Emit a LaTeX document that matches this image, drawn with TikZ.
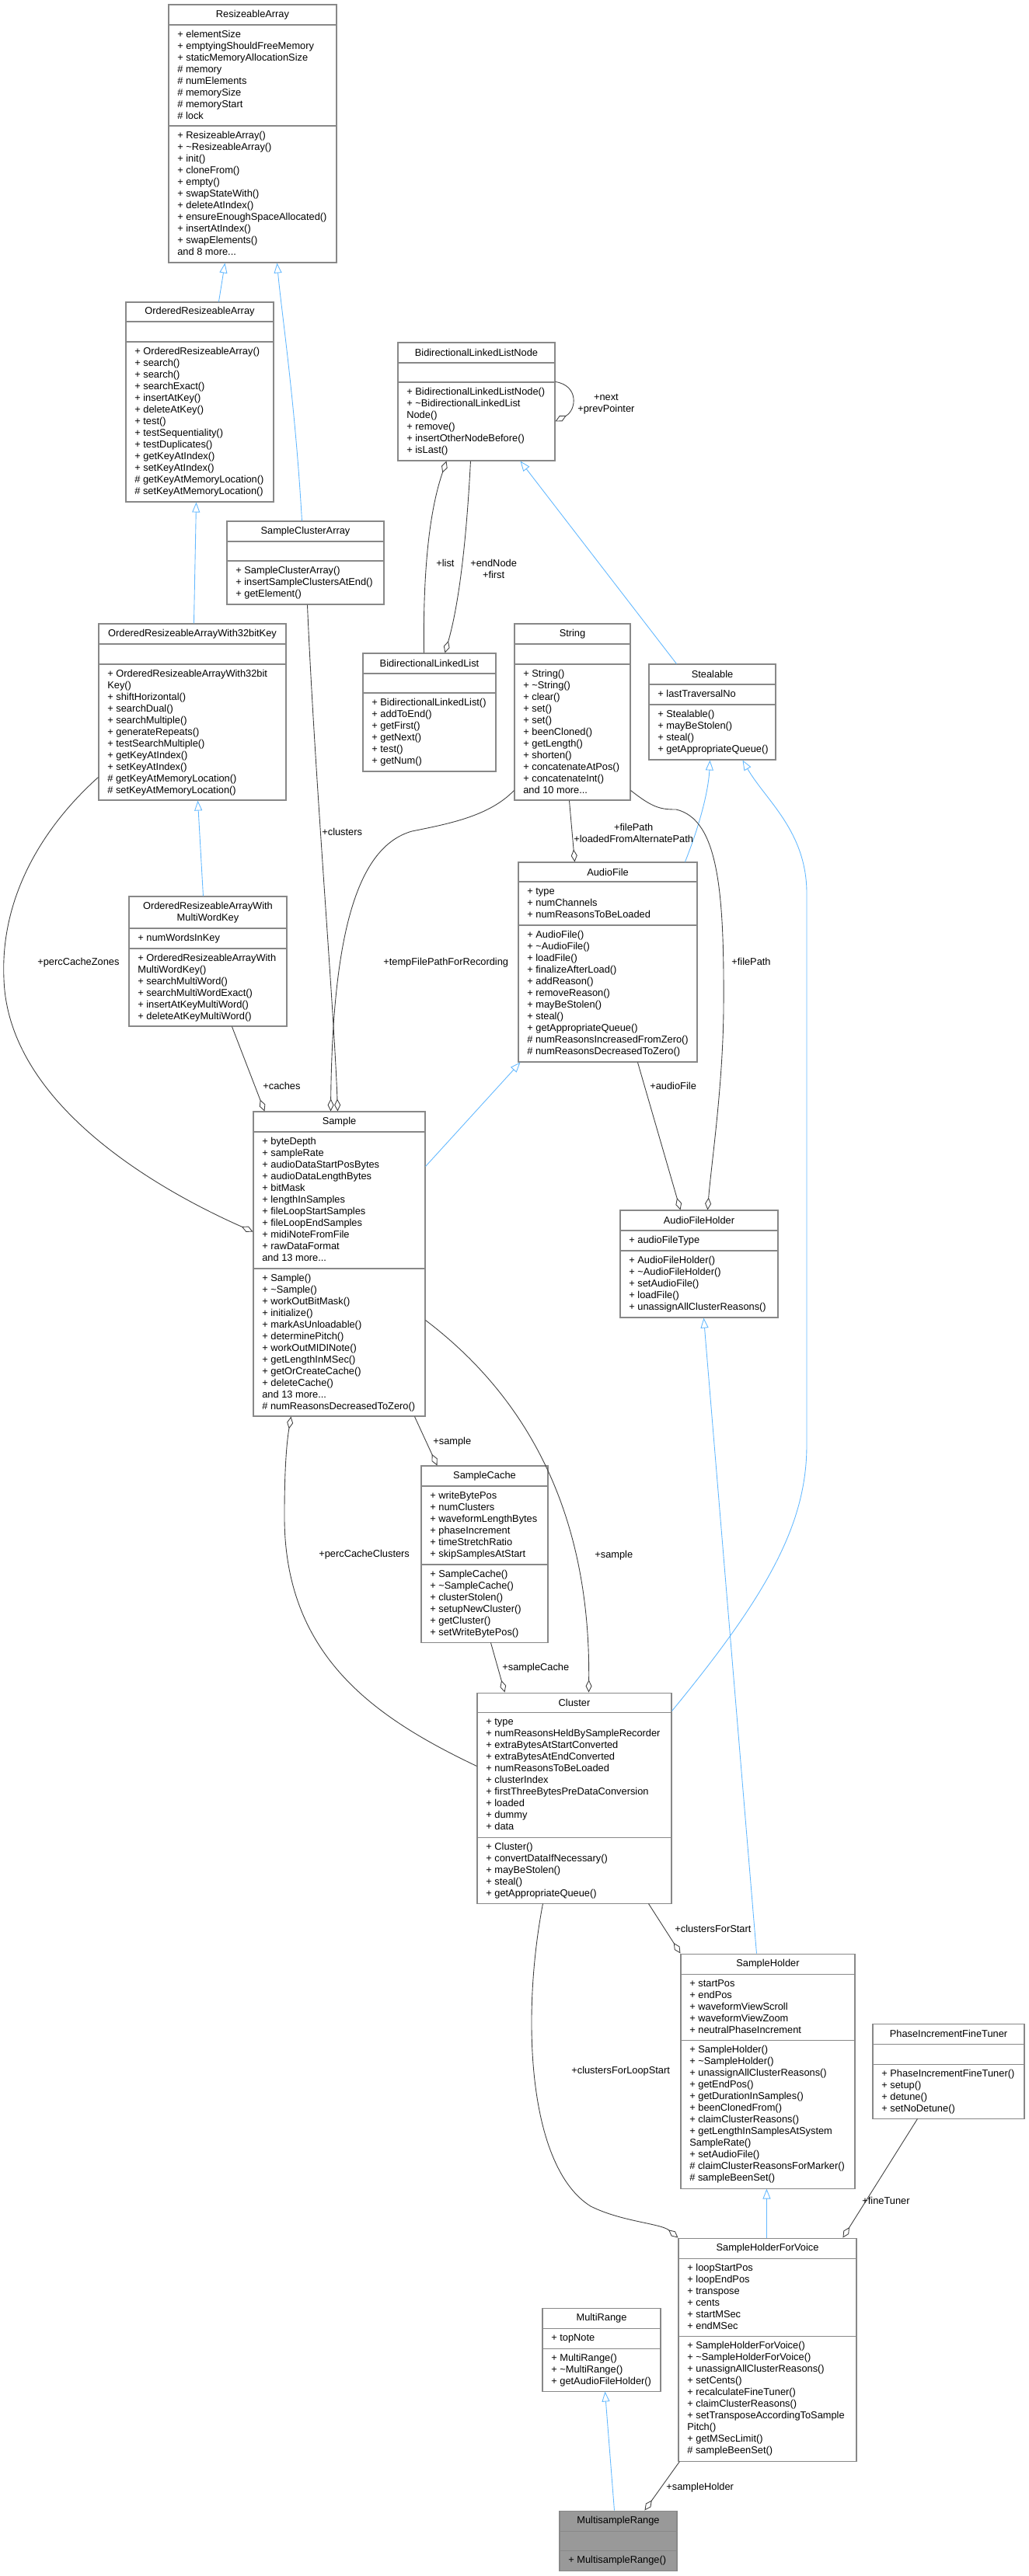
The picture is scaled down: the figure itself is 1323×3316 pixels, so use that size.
\documentclass[tikz,border=0pt]{standalone}
\usepackage{fontspec}
\setmainfont{Liberation Sans}
\usetikzlibrary{arrows.meta, fit, calc}

\definecolor{boxgray}{HTML}{888888}
\definecolor{edgegray}{HTML}{404040}
\definecolor{inhblue}{HTML}{63B8FF}
\definecolor{msrgray}{HTML}{999999}
\newcommand\boxfont{\fontsize{7.3}{8.54}\selectfont}

\tikzset{
  box/.style={draw=boxgray, line width=0.6pt, fill=white, inner sep=0pt},
  boxline/.style={draw=boxgray, line width=0.6pt},
  boxtitle/.style={font=\boxfont, align=center, inner sep=0pt},
  boxtext/.style={font=\boxfont, align=left, anchor=north west, inner sep=0pt},
  agg/.style={draw=edgegray, line width=0.5pt, -{Diamond[open, length=0.32cm, width=0.16cm]}},
  inh/.style={draw=inhblue, line width=0.5pt, -{Triangle[open, length=0.26cm, width=0.2cm]}},
  lbl/.style={font=\boxfont, align=center, anchor=west, inner sep=0pt}
}

% class box: name (x1,ytop,x2,sep1,sep2,ybot) {title} {attributes} {methods}
\def\umlbox#1(#2,#3,#4,#5,#6,#7)#8#9{%
  \node[box, fit={(#2,#3) (#4,#7)}] (#1) {};
  \draw[boxline] (#2,#5) -- (#4,#5) (#2,#6) -- (#4,#6);
  \node[boxtitle] at ({(#2+#4)/2},{(#3+#5)/2}) {#8};
  \node[boxtext] at (#2+11,#5+5.5) {\strut#9};
  \def\methx{#2}\def\methy{#6}\umlmeth}
\newcommand\umlmeth[1]{\node[boxtext] at (\methx+11,\methy+5.5) {\strut#1};}
\newcommand\tld{\textasciitilde}

\begin{document}
\begin{tikzpicture}[x=0.02cm, y=-0.02cm]
\useasboundingbox (0,0) rectangle (1323,3316);

\umlbox{resizeable}(217,6,433,32,162,338){ResizeableArray}
  {+ elementSize\\+ emptyingShouldFreeMemory\\+ staticMemoryAllocationSize\\\# memory\\\# numElements\\\# memorySize\\\# memoryStart\\\# lock}
  {+ ResizeableArray()\\+ \tld ResizeableArray()\\+ init()\\+ cloneFrom()\\+ empty()\\+ swapStateWith()\\+ deleteAtIndex()\\+ ensureEnoughSpaceAllocated()\\+ insertAtIndex()\\+ swapElements()\\and 8 more...}
\umlbox{ordered}(162,389,352,414,440,646){OrderedResizeableArray}{}
  {+ OrderedResizeableArray()\\+ search()\\+ search()\\+ searchExact()\\+ insertAtKey()\\+ deleteAtKey()\\+ test()\\+ testSequentiality()\\+ testDuplicates()\\+ getKeyAtIndex()\\+ setKeyAtIndex()\\\# getKeyAtMemoryLocation()\\\# setKeyAtMemoryLocation()}
\umlbox{listnode}(512,441,714,467,492,593){BidirectionalLinkedListNode}{}
  {+ BidirectionalLinkedListNode()\\+ \tld BidirectionalLinkedList\\Node()\\+ remove()\\+ insertOtherNodeBefore()\\+ isLast()}
\umlbox{clusterarray}(292,671,494,697,722,778){SampleClusterArray}{}
  {+ SampleClusterArray()\\+ insertSampleClustersAtEnd()\\+ getElement()}
\umlbox{ordered32}(127,803,368,829,855,1030){OrderedResizeableArrayWith32bitKey}{}
  {+ OrderedResizeableArrayWith32bit\\Key()\\+ shiftHorizontal()\\+ searchDual()\\+ searchMultiple()\\+ generateRepeats()\\+ testSearchMultiple()\\+ getKeyAtIndex()\\+ setKeyAtIndex()\\\# getKeyAtMemoryLocation()\\\# setKeyAtMemoryLocation()}
\umlbox{list}(467,841,638,867,892,993){BidirectionalLinkedList}{}
  {+ BidirectionalLinkedList()\\+ addToEnd()\\+ getFirst()\\+ getNext()\\+ test()\\+ getNum()}
\umlbox{string}(662,803,811,829,855,1030){String}{}
  {+ String()\\+ \tld String()\\+ clear()\\+ set()\\+ set()\\+ beenCloned()\\+ getLength()\\+ shorten()\\+ concatenateAtPos()\\+ concatenateInt()\\and 10 more...}
\umlbox{stealable}(835,855,998,881,907,978){Stealable}{+ lastTraversalNo}
  {+ Stealable()\\+ mayBeStolen()\\+ steal()\\+ getAppropriateQueue()}
\umlbox{multiword}(166,1154,369,1195,1221,1321){OrderedResizeableArrayWith\\MultiWordKey}{+ numWordsInKey}
  {+ OrderedResizeableArrayWith\\MultiWordKey()\\+ searchMultiWord()\\+ searchMultiWordExact()\\+ insertAtKeyMultiWord()\\+ deleteAtKeyMultiWord()}
\umlbox{audiofile}(667,1110,897,1135,1191,1367){AudioFile}
  {+ type\\+ numChannels\\+ numReasonsToBeLoaded}
  {+ AudioFile()\\+ \tld AudioFile()\\+ loadFile()\\+ finalizeAfterLoad()\\+ addReason()\\+ removeReason()\\+ mayBeStolen()\\+ steal()\\+ getAppropriateQueue()\\\# numReasonsIncreasedFromZero()\\\# numReasonsDecreasedToZero()}
\umlbox{sample}(326,1431,547,1457,1633,1823){Sample}
  {+ byteDepth\\+ sampleRate\\+ audioDataStartPosBytes\\+ audioDataLengthBytes\\+ bitMask\\+ lengthInSamples\\+ fileLoopStartSamples\\+ fileLoopEndSamples\\+ midiNoteFromFile\\+ rawDataFormat\\and 13 more...}
  {+ Sample()\\+ \tld Sample()\\+ workOutBitMask()\\+ initialize()\\+ markAsUnloadable()\\+ determinePitch()\\+ workOutMIDINote()\\+ getLengthInMSec()\\+ getOrCreateCache()\\+ deleteCache()\\and 13 more...\\\# numReasonsDecreasedToZero()}
\umlbox{holder}(798,1558,1001,1584,1610,1696){AudioFileHolder}{+ audioFileType}
  {+ AudioFileHolder()\\+ \tld AudioFileHolder()\\+ setAudioFile()\\+ loadFile()\\+ unassignAllClusterReasons()}
\umlbox{cache}(542,1887,705,1913,2014,2114){SampleCache}
  {+ writeBytePos\\+ numClusters\\+ waveformLengthBytes\\+ phaseIncrement\\+ timeStretchRatio\\+ skipSamplesAtStart}
  {+ SampleCache()\\+ \tld SampleCache()\\+ clusterStolen()\\+ setupNewCluster()\\+ getCluster()\\+ setWriteBytePos()}
\umlbox{cluster}(614,2179,864,2204,2365,2450){Cluster}
  {+ type\\+ numReasonsHeldBySampleRecorder\\+ extraBytesAtStartConverted\\+ extraBytesAtEndConverted\\+ numReasonsToBeLoaded\\+ clusterIndex\\+ firstThreeBytesPreDataConversion\\+ loaded\\+ dummy\\+ data}
  {+ Cluster()\\+ convertDataIfNecessary()\\+ mayBeStolen()\\+ steal()\\+ getAppropriateQueue()}
\umlbox{sampleholder}(876,2515,1100,2541,2626,2817){SampleHolder}
  {+ startPos\\+ endPos\\+ waveformViewScroll\\+ waveformViewZoom\\+ neutralPhaseIncrement}
  {+ SampleHolder()\\+ \tld SampleHolder()\\+ unassignAllClusterReasons()\\+ getEndPos()\\+ getDurationInSamples()\\+ beenClonedFrom()\\+ claimClusterReasons()\\+ getLengthInSamplesAtSystem\\SampleRate()\\+ setAudioFile()\\\# claimClusterReasonsForMarker()\\\# sampleBeenSet()}
\umlbox{tuner}(1123,2605,1318,2631,2657,2727){PhaseIncrementFineTuner}{}
  {+ PhaseIncrementFineTuner()\\+ setup()\\+ detune()\\+ setNoDetune()}
\umlbox{voice}(873,2881,1102,2907,3007,3168){SampleHolderForVoice}
  {+ loopStartPos\\+ loopEndPos\\+ transpose\\+ cents\\+ startMSec\\+ endMSec}
  {+ SampleHolderForVoice()\\+ \tld SampleHolderForVoice()\\+ unassignAllClusterReasons()\\+ setCents()\\+ recalculateFineTuner()\\+ claimClusterReasons()\\+ setTransposeAccordingToSample\\Pitch()\\+ getMSecLimit()\\\# sampleBeenSet()}
\umlbox{multirange}(698,2971,850,2997,3023,3078){MultiRange}{+ topNote}
  {+ MultiRange()\\+ \tld MultiRange()\\+ getAudioFileHolder()}
\begin{scope}[box/.append style={fill=msrgray}]
\umlbox{msrange}(720,3232,871,3258,3283,3309){MultisampleRange}{}
  {+ MultisampleRange()}
\end{scope}

% inheritance
\draw[inh] ($(ordered.north west)+(120,0)$) -- ($(resizeable.south west)+(73,0)$);
\draw[inh] ($(clusterarray.north west)+(97,0)$) .. controls (380,520) and (362,400) .. ($(resizeable.south west)+(140,0)$);
\draw[inh] ($(ordered32.north west)+(123,0)$) -- ($(ordered.south west)+(91,0)$);
\draw[inh] ($(multiword.north west)+(96,0)$) -- ($(ordered32.south west)+(128,0)$);
\draw[inh] ($(stealable.north west)+(36,0)$) -- ($(listnode.south west)+(158,0)$);
\draw[inh] ($(audiofile.north west)+(215,0)$) .. controls (905,1050) and (912,1010) .. ($(stealable.south west)+(79,0)$);
\draw[inh] ($(sample.north east)+(0,71)$) -- ($(audiofile.south west)+(3,0)$);
\draw[inh] ($(cluster.north east)+(0,24)$) .. controls (990,2050) and (1038,1960) .. (1038,1860)
  -- (1038,1150) .. controls (1038,1070) and (985,1030) .. ($(stealable.south west)+(121,0)$);
\draw[inh] ($(sampleholder.north west)+(98,0)$) -- ($(holder.south west)+(108,0)$);
\draw[inh] ($(voice.north west)+(114,0)$) -- ($(sampleholder.south west)+(111,0)$);
\draw[inh] ($(msrange.north west)+(71,0)$) -- ($(multirange.south west)+(81,0)$);

% aggregation
\draw[agg] ($(listnode.north east)+(0,51)$) .. controls (745,496) and (742,528) .. ($(listnode.north east)+(0,102)$);
\node[lbl] (nextlbl) at (743,520) {+next\\+prevPointer};
\draw[agg] ($(list.north west)+(79,0)$) .. controls (544,720) and (555,650) .. ($(listnode.south west)+(63,0)$);
\node[lbl] (listlbl) at (561,725) {+list};
\draw[agg] ($(listnode.south west)+(94,0)$) .. controls (600,700) and (590,780) .. ($(list.north west)+(106,0)$);
\node[lbl] (endlbl) at (605,732) {+endNode\\+first};
\draw[agg] ($(clusterarray.south west)+(104,0)$) .. controls (405,1000) and (430,1300) .. ($(sample.north west)+(109,0)$);
\node[lbl] (clusterslbl) at (414,1071) {+clusters};
\draw[agg] ($(string.north west)+(0,215)$) .. controls (630,1050) and (580,1060) .. (530,1070)
  .. controls (460,1090) and (428,1200) .. ($(sample.north west)+(100,0)$);
\node[lbl] (templbl) at (493,1239) {+tempFilePathForRecording};
\draw[agg] ($(multiword.south west)+(133,0)$) -- ($(sample.north west)+(15,0)$);
\node[lbl] (cacheslbl) at (338,1398) {+caches};
\draw[agg] ($(ordered32.north west)+(0,198)$) .. controls (60,1060) and (0,1150) .. (5,1260)
  .. controls (10,1420) and (200,1530) .. ($(sample.north west)+(0,155)$);
\node[lbl] (zoneslbl) at (48,1239) {+percCacheZones};
\draw[agg] ($(string.south west)+(71,0)$) -- ($(audiofile.north west)+(73,0)$);
\node[lbl] (pathlbl) at (738,1072) {+filePath\\+loadedFromAlternatePath};
\draw[agg] ($(string.north east)+(0,215)$) .. controls (840,1040) and (850,1042) .. (870,1042)
  .. controls (925,1055) and (932,1150) .. (931,1300) .. controls (930,1400) and (915,1500) .. ($(holder.north west)+(113,0)$);
\node[lbl] (filelbl) at (941,1238) {+filePath};
\draw[agg] ($(audiofile.south west)+(154,0)$) -- ($(holder.north west)+(78,0)$);
\node[lbl] (audiolbl) at (836,1398) {+audioFile};
\draw[agg] ($(sample.south west)+(208,0)$) -- ($(cache.north west)+(21,0)$);
\node[lbl] (samplelbl) at (557,1856) {+sample};
\draw[agg] ($(sample.north east)+(0,269)$) .. controls (680,1800) and (760,1950) .. ($(cluster.north west)+(144,0)$);
\node[lbl] (sample2lbl) at (765,2002) {+sample};
\draw[agg] ($(cluster.north west)+(0,95)$) .. controls (480,2210) and (365,2130) .. (366,1950)
  .. controls (366,1880) and (370,1850) .. ($(sample.south west)+(49,0)$);
\node[lbl] (perclbl) at (410,2001) {+percCacheClusters};
\draw[agg] ($(cache.south west)+(90,0)$) -- ($(cluster.north west)+(36,0)$);
\node[lbl] (cachelbl) at (646,2147) {+sampleCache};
\draw[agg] ($(cluster.south west)+(221,0)$) -- (sampleholder.north west);
\node[lbl] (startlbl) at (868,2483) {+clustersForStart};
\draw[agg] ($(cluster.south west)+(85,0)$) .. controls (670,2600) and (680,2790) .. (760,2840)
  .. controls (800,2860) and (850,2862) .. (voice.north west);
\node[lbl] (looplbl) at (735,2666) {+clustersForLoopStart};
\draw[agg] ($(tuner.south west)+(58,0)$) -- ($(voice.north west)+(212,0)$);
\node[lbl] (tunerlbl) at (1109,2833) {+fineTuner};
\draw[agg] ($(voice.south west)+(2,0)$) -- ($(msrange.north west)+(110,0)$);
\node[lbl] (holderlbl) at (857,3202) {+sampleHolder};
\end{tikzpicture}
\end{document}
